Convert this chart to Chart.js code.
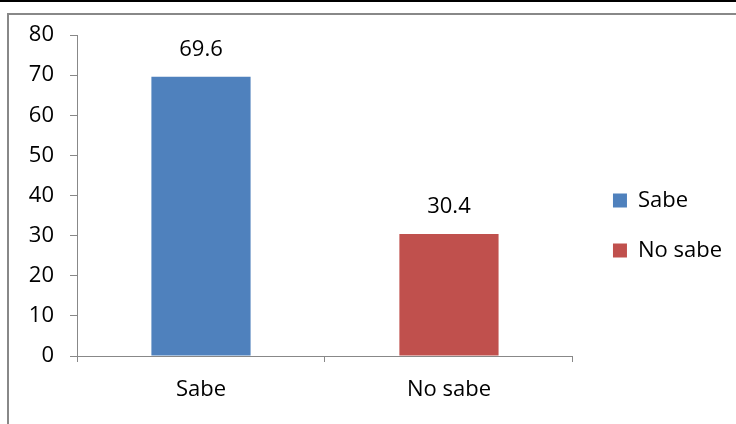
<!DOCTYPE html>
<html>
<head>
<meta charset="utf-8">
<script src="https://cdn.jsdelivr.net/npm/chart.js@4"></script>
<style>
  body { margin: 0; background: #fff; }
  #wrap { position: relative; width: 736px; height: 424px; overflow: hidden; }
  #topline { position: absolute; left: 0; top: 0; width: 736px; height: 2px; background: #000; }
  #frame { position: absolute; left: 7px; top: 13px; width: 760px; height: 440px; border: 2px solid #888; }
  canvas { position: absolute; left: 0; top: 0; }
</style>
</head>
<body>
<div id="wrap">
  <div id="topline"></div>
  <div id="frame"></div>
  <canvas id="myChart" width="736" height="424"></canvas>
</div>
<script>
const categories = ['Sabe', 'No sabe'];
const values = [69.6, 30.4];
const colors = ['#4F81BD', '#C0504D'];
const yTicks = [0, 10, 20, 30, 40, 50, 60, 70, 80];

const font = { family: '"Open Sans", sans-serif', size: 22 };

// writes the value above each bar
const valueLabels = {
    id: 'valueLabels',
    afterDatasetsDraw(chart) {
        const ctx = chart.ctx;
        const meta = chart.getDatasetMeta(0);
        ctx.save();
        ctx.font = '22px "Open Sans", sans-serif';
        ctx.fillStyle = '#000';
        ctx.textAlign = 'center';
        ctx.textBaseline = 'middle';
        meta.data.forEach((bar, i) => {
            ctx.fillText(values[i].toFixed(1), bar.x, bar.y - 27);
        });
        ctx.restore();
    }
};

// nudge the legend a bit right and up from where the layout puts it
const legendNudge = {
    id: 'legendNudge',
    afterLayout(chart) {
        const lg = chart.legend;
        const dx = 12, dy = -4;
        lg.left += dx; lg.right += dx;
        lg.top += dy; lg.bottom += dy;
        lg.legendHitBoxes.forEach(b => { b.left += dx; b.top += dy; });
    }
};

const ctx = document.getElementById('myChart').getContext('2d');
const chart = new Chart(ctx, {
    type: 'bar',
    data: {
        labels: categories,
        datasets: [{
            data: values,
            backgroundColor: colors,
            borderWidth: 0,
            categoryPercentage: 1,
            barPercentage: 0.40
        }]
    },
    options: {
        responsive: false,
        animation: false,
        layout: { padding: { top: 35, left: 0, right: 16, bottom: 0 } },
        scales: {
            x: {
                grid: { offset: true, drawOnChartArea: false, drawTicks: true, tickLength: 6, color: '#888' },
                border: { color: '#888', width: 1 },
                ticks: { font: font, color: '#000', padding: 15 },
                afterFit: s => { s.height = 68; }
            },
            y: {
                min: 0,
                max: 80,
                afterBuildTicks: s => { s.ticks = yTicks.map(v => ({ value: v })); },
                grid: { drawOnChartArea: false, drawTicks: true, tickLength: 7, color: '#888' },
                border: { color: '#888', width: 1 },
                ticks: { font: font, color: '#000', padding: 16 },
                afterFit: s => { s.width = 77; }
            }
        },
        plugins: {
            legend: {
                position: 'right',
                labels: {
                    font: font,
                    color: '#000',
                    boxWidth: 14,
                    boxHeight: 14,
                    padding: 28,
                    generateLabels: c => categories.map((name, i) => ({
                        text: name,
                        fillStyle: colors[i],
                        strokeStyle: colors[i],
                        lineWidth: 0,
                        index: i
                    }))
                }
            },
            tooltip: { enabled: false }
        }
    },
    plugins: [valueLabels, legendNudge]
});
</script>
</body>
</html>
